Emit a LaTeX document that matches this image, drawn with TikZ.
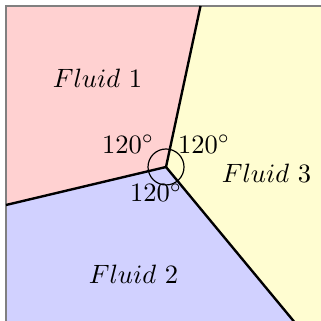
\documentclass[tikz,border=0pt]{standalone}
\begin{document}
\begin{tikzpicture}[x=0.377pt,y=-0.377pt,
  interface/.style={line width=0.9pt,black},
  lbl/.style={inner sep=0pt}]
\useasboundingbox (0,0) rectangle (321,321);
\clip (0,0) rectangle (321,321);
\coordinate (c) at (166,167);
\coordinate (t) at (200.5,6);
\coordinate (l) at (6,205);
\coordinate (b) at (301,330);
\fill[red!18] (6,6) -- (t) -- (c) -- (l) -- cycle;
\fill[yellow!18] (t) -- (330,6) -- (330,330) -- (b) -- (c) -- cycle;
\fill[blue!18] (l) -- (c) -- (b) -- (6,330) -- cycle;
\draw[gray,line width=0.8pt] (6,330) -- (6,6) -- (330,6);
\draw[interface] (c) -- (t);
\draw[interface] (c) -- (l);
\draw[interface] (c) -- (b);
\draw[line width=0.45pt] (c) circle (18);
\node[lbl] (f1) at (97.5,78) {$Fluid$ 1};
\node[lbl] (f3) at (266.5,174) {$Fluid$ 3};
\node[lbl] (f2) at (133.5,274) {$Fluid$ 2};
\node[lbl] (a1) at (128,144) {$120^\circ$};
\node[lbl] (a2) at (204,144) {$120^\circ$};
\node[lbl] (a3) at (156,192.5) {$120^\circ$};
\end{tikzpicture}
\end{document}
